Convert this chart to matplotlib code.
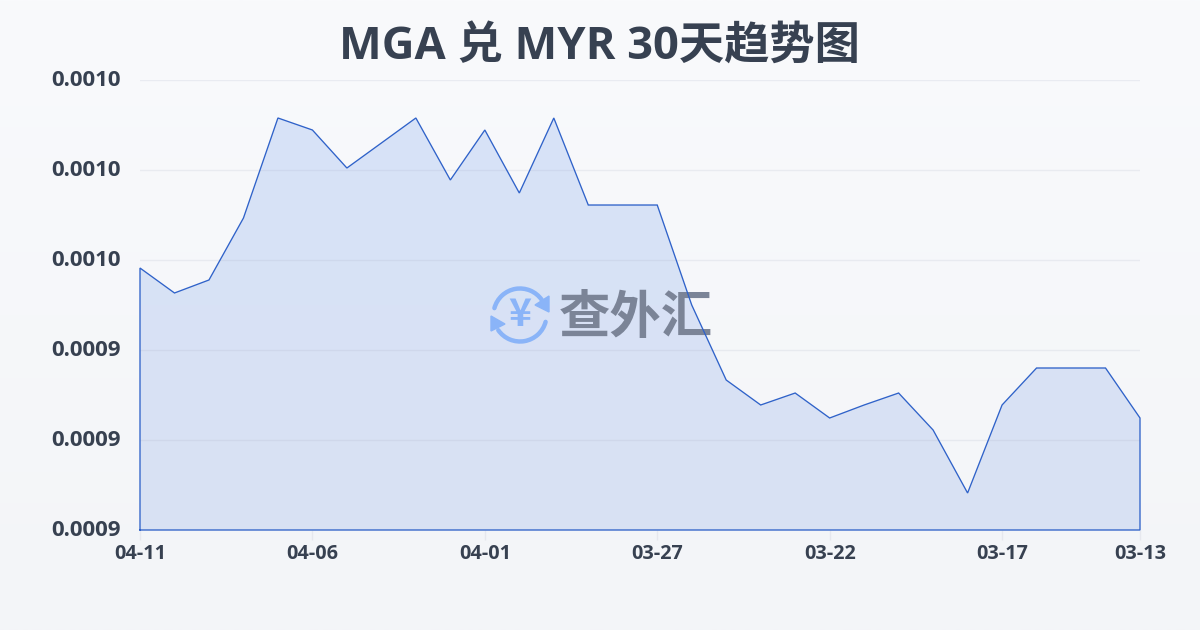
import numpy as np
import matplotlib
matplotlib.use("Agg")
import matplotlib.pyplot as plt
from matplotlib.patches import Arc, Polygon
from matplotlib.colors import LinearSegmentedColormap
from matplotlib.ticker import FuncFormatter
from matplotlib.transforms import ScaledTranslation

W, H = 1200, 630
title = "MGA 兑 MYR 30天趋势图"
watermark = "查外汇"
dates = ["04-11", "04-06", "04-01", "03-27", "03-22", "03-17", "03-13"]
date_pos = [0, 5, 10, 15, 20, 25, 29]
rates = [0.00095822, 0.00095267, 0.00095556, 0.00096933, 0.00099156, 0.00098889,
         0.00098044, 0.00098600, 0.00099156, 0.00097778, 0.00098889, 0.00097489,
         0.00099156, 0.00097222, 0.00097222, 0.00097222, 0.00095000, 0.00093333,
         0.00092778, 0.00093044, 0.00092489, 0.00092778, 0.00093044, 0.00092222,
         0.00090822, 0.00092778, 0.00093600, 0.00093600, 0.00093600, 0.00092489]
y_ticks = [0.00090, 0.00092, 0.00094, 0.00096, 0.00098, 0.00100]

fonts = ["Open Sans", "Noto Sans CJK SC", "DejaVu Sans"]
plt.rcParams["font.family"] = fonts
TXT = "#374151"
LINE = "#2f62c9"

fig = plt.figure(figsize=(W / 100, H / 100), dpi=100)

bg = fig.add_axes([0, 0, 1, 1], zorder=0)
bg.axis("off")
bg.imshow(np.linspace(0, 1, 256)[:, None], aspect="auto", extent=(0, 1, 0, 1),
          cmap=LinearSegmentedColormap.from_list("bg", ["#f9fafc", "#f3f5f8"]))

rect = [140 / W, 100 / H, 1000 / W, 450 / H]
ax = fig.add_axes(rect, zorder=1)
ax.patch.set_alpha(0)
x = np.arange(len(rates))
xlim = (0, len(rates) - 1)
ylim = (y_ticks[0], y_ticks[-1])

ax.set_yticks(y_ticks)
ax.yaxis.set_major_formatter(FuncFormatter(lambda v, _: f"{v:.4f}"))
ax.set_xticks(date_pos)
ax.set_xticklabels(dates)
ax.grid(axis="y", color="#a0a8c0", alpha=0.16, lw=1)
ax.set_axisbelow(False)
for s in ax.spines.values():
    s.set_visible(False)
ax.tick_params(axis="y", length=0, pad=13.7, labelsize=16, labelcolor=TXT)
ax.tick_params(axis="x", length=7.5, width=1, color="#e6e8ee", pad=2.5, labelsize=14.3, labelcolor=TXT)
shift = ScaledTranslation(0, 1.5 / 72, fig.dpi_scale_trans)
for lab in ax.get_yticklabels():
    lab.set_fontweight("bold")
    lab.set_transform(lab.get_transform() + shift)
for lab in ax.get_xticklabels():
    lab.set_fontweight("bold")

im = ax.imshow(np.linspace(0, 1, 256)[:, None], aspect="auto",
               extent=(xlim[0], xlim[1], ylim[0], ylim[1]),
               cmap=LinearSegmentedColormap.from_list("fill", ["#d7e3f8", "#d9e1f3"]), zorder=2)
poly = Polygon(np.column_stack([np.r_[x[0], x, x[-1]], np.r_[y_ticks[0], rates, y_ticks[0]]]),
               closed=True, transform=ax.transData, fc="none", ec="none")
ax.add_patch(poly)
im.set_clip_path(poly)
ax.set_xlim(*xlim)
ax.set_ylim(*ylim)

# watermark, in pixel coordinates
ov = fig.add_axes([0, 0, 1, 1], zorder=2)
ov.axis("off")
ov.set_xlim(0, W)
ov.set_ylim(H, 0)
ov.patch.set_alpha(0)
ICON = "#8ab4f8"
cx, cy, r = 520, 315, 26.5
ov.add_patch(Arc((cx, cy), 2 * r, 2 * r, theta1=195, theta2=325, color=ICON, lw=3.2, capstyle="round"))
ov.add_patch(Arc((cx, cy), 2 * r, 2 * r, theta1=15, theta2=145, color=ICON, lw=3.2, capstyle="round"))
ov.add_patch(Polygon([[549, 296], [549, 312], [535, 305]], closed=True, fc=ICON, ec=ICON, lw=1))
ov.add_patch(Polygon([[491, 316], [491, 331], [505, 324]], closed=True, fc=ICON, ec=ICON, lw=1))
ov.text(cx, cy - 1, "¥", color=ICON, fontsize=28, fontweight="bold", ha="center", va="center",
        family=["Noto Sans CJK SC", "DejaVu Sans"])
ov.text(636, 318, watermark, color="#7b8497", fontsize=37, fontweight="bold", ha="center", va="center",
        family=["Noto Sans CJK SC", "DejaVu Sans"])

# series outline above the watermark
top = fig.add_axes(rect, zorder=3)
top.axis("off")
top.patch.set_alpha(0)
top.plot(np.r_[x[0], x, x[-1], x[0]], np.r_[y_ticks[0], rates, y_ticks[0], y_ticks[0]],
         color=LINE, lw=0.95, clip_on=False, solid_joinstyle="miter")
top.set_xlim(*xlim)
top.set_ylim(*ylim)

fig.text(599 / W, 1 - 48 / H, title, fontsize=32.6, fontweight="bold", color=TXT, ha="center", va="center")

fig.savefig("out.png", dpi=100)
